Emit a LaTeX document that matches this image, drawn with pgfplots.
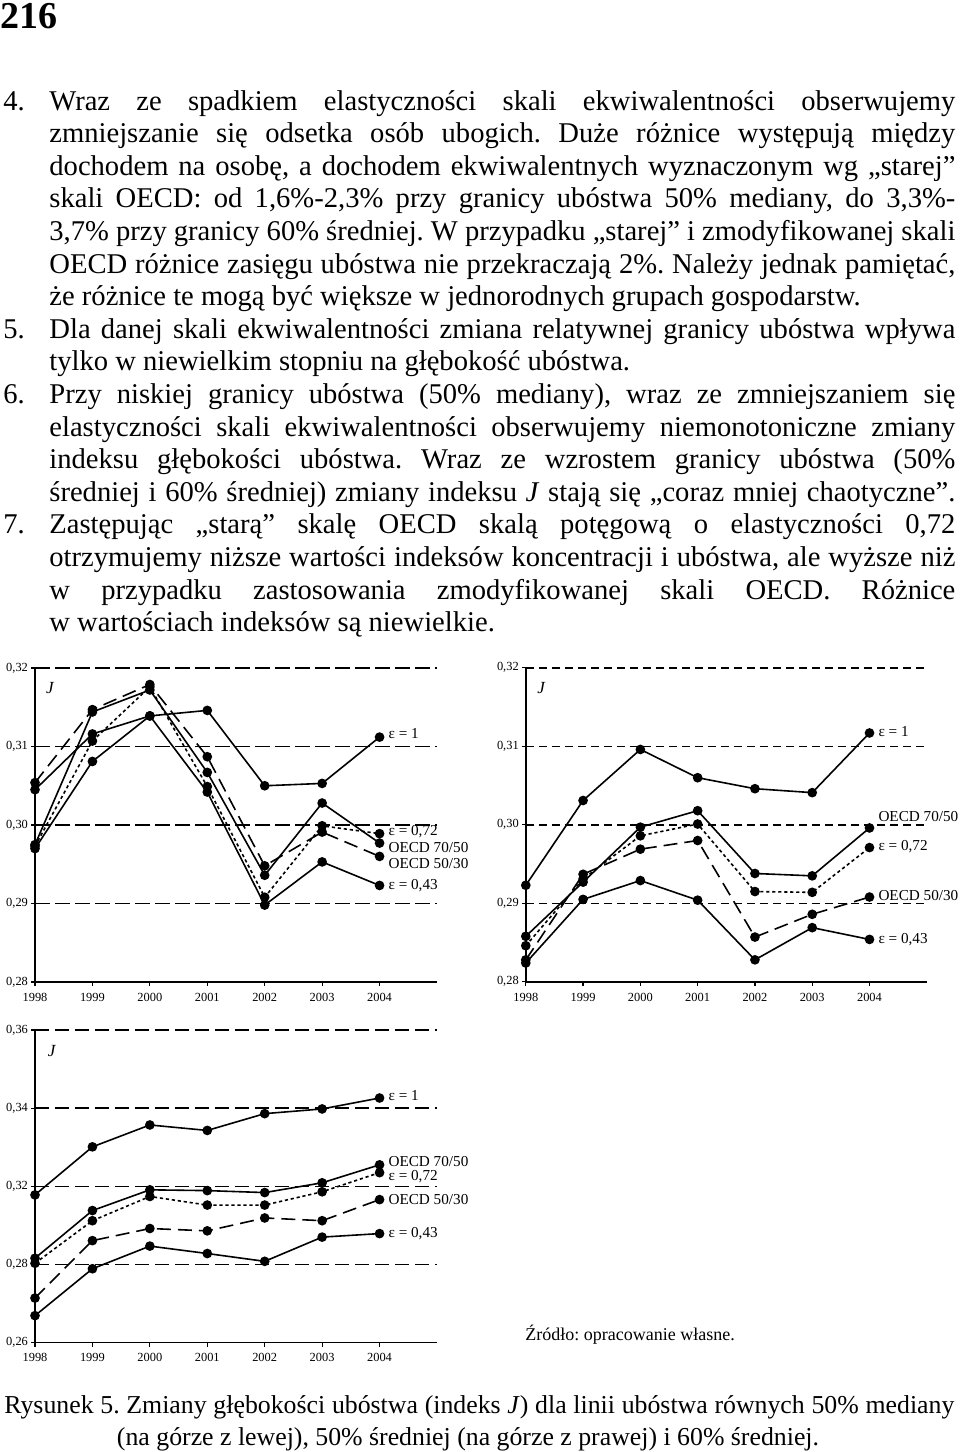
\documentclass[border=0pt]{standalone}
\usepackage{fontspec}
\setmainfont{Liberation Serif}
\usepackage{pgfplots}
\pgfplotsset{compat=1.18}
\frenchspacing

\newcommand{\body}{\fontsize{14.3}{16}\selectfont}
\newcommand{\jl}[1]{\makebox[453pt][s]{#1}}

\tikzset{
  lab/.style={anchor=west, inner sep=0pt, font=\fontsize{7.6}{9}\selectfont},
  jlab/.style={inner sep=0pt, font=\fontsize{8.5}{9}\selectfont\itshape},
  dot72/.style={dash pattern=on 1.6pt off 1.4pt},
  dash5030/.style={dash pattern=on 7pt off 3.5pt},
}
\pgfplotsset{
  jchart/.style={
    scale only axis, width=201pt, height=157pt,
    axis lines=left, axis line style={-, line width=0.7pt},
    xmin=1998, xmax=2005, xtick={1998,...,2004},
    xticklabels={1998,1999,2000,2001,2002,2003,2004},
    tick align=outside, major tick length=2pt,
    tick style={black, line width=0.6pt},
    ticklabel style={font=\fontsize{6.2}{7}\selectfont},
    yticklabel style={xshift=2pt},
    ymajorgrids, clip=false,
    cycle list={{black, solid, mark=*, mark options={solid}}},
    every axis plot/.append style={black, line width=0.8pt, mark=*, mark size=2pt, mark options={solid}},
  },
}

\begin{document}
\begin{tikzpicture}
\path[use as bounding box] (0,0) rectangle (480pt,-726pt);

\begin{scope}[x=0.5pt, y=-0.5pt, every node/.style={anchor=base west, inner sep=0pt, font=\body}]
\node at (0,28) {\fontsize{19}{20}\selectfont\bfseries 216};
\node at (3,110) {4.};
\node at (49,110) {\jl{Wraz ze spadkiem elastyczności skali ekwiwalentności obserwujemy}};
\node at (49,142.6) {\jl{zmniejszanie się odsetka osób ubogich. Duże różnice występują między}};
\node at (49,175.2) {\jl{dochodem na osobę, a dochodem ekwiwalentnych wyznaczonym wg „starej”}};
\node at (49,207.8) {\jl{skali OECD: od 1,6\%-2,3\% przy granicy ubóstwa 50\% mediany, do 3,3\%-}};
\node at (49,240.4) {\jl{3,7\% przy granicy 60\% średniej. W przypadku „starej” i zmodyfikowanej skali}};
\node at (49,273) {\jl{OECD różnice zasięgu ubóstwa nie przekraczają 2\%. Należy jednak pamiętać,}};
\node at (49,305.6) {że różnice te mogą być większe w jednorodnych grupach gospodarstw.};
\node at (3,338.2) {5.};
\node at (49,338.2) {\jl{Dla danej skali ekwiwalentności zmiana relatywnej granicy ubóstwa wpływa}};
\node at (49,370.8) {tylko w niewielkim stopniu na głębokość ubóstwa.};
\node at (3,403.4) {6.};
\node at (49,403.4) {\jl{Przy niskiej granicy ubóstwa (50\% mediany), wraz ze zmniejszaniem się}};
\node at (49,436) {\jl{elastyczności skali ekwiwalentności obserwujemy niemonotoniczne zmiany}};
\node at (49,468.6) {\jl{indeksu głębokości ubóstwa. Wraz ze wzrostem granicy ubóstwa (50\%}};
\node at (49,501.2) {\jl{średniej i 60\% średniej) zmiany indeksu \textit{J} stają się „coraz mniej chaotyczne”.}};
\node at (3,533.8) {7.};
\node at (49,533.8) {\jl{Zastępując „starą” skalę OECD skalą potęgową o elastyczności 0,72}};
\node at (49,566.4) {\jl{otrzymujemy niższe wartości indeksów koncentracji i ubóstwa, ale wyższe niż}};
\node at (49,599) {\jl{w przypadku zastosowania zmodyfikowanej skali OECD. Różnice}};
\node at (49,631.6) {w wartościach indeksów są niewielkie.};
\node at (525,1340) {\fontsize{9}{10}\selectfont Źródło: opracowanie własne.};
\node at (4,1413) {\fontsize{12.9}{15}\selectfont\makebox[475pt][s]{Rysunek 5. Zmiany głębokości ubóstwa (indeks \textit{J}) dla linii ubóstwa równych 50\% mediany}};
\node[anchor=base] at (468,1445) {\fontsize{12.9}{15}\selectfont (na górze z lewej), 50\% średniej (na górze z prawej) i 60\% średniej.};
\end{scope}

% 50% mediany
\begin{axis}[jchart, at={(17.5pt,-491pt)}, anchor=south west,
  ymin=0.28, ymax=0.32, ytick={0.28,0.29,0.30,0.31,0.32},
  yticklabels={{0,28},{0,29},{0,30},{0,31},{0,32}},
  grid style={black, line width=0.7pt, dash pattern=on 7.5pt off 2.5pt}]
\addplot coordinates {(1998,0.3045) (1999,0.3116) (2000,0.3139) (2001,0.3146) (2002,0.3050) (2003,0.3053) (2004,0.3112)};
\addplot coordinates {(1998,0.2975) (1999,0.3144) (2000,0.3172) (2001,0.3067) (2002,0.2936) (2003,0.3028) (2004,0.2977)};
\addplot[dot72] coordinates {(1998,0.2973) (1999,0.3107) (2000,0.3176) (2001,0.3049) (2002,0.2908) (2003,0.2999) (2004,0.2989)};
\addplot[dash5030] coordinates {(1998,0.3054) (1999,0.3147) (2000,0.3179) (2001,0.3087) (2002,0.2948) (2003,0.2991) (2004,0.2960)};
\addplot coordinates {(1998,0.2970) (1999,0.3081) (2000,0.3139) (2001,0.3042) (2002,0.2898) (2003,0.2953) (2004,0.2923)};
\node[jlab] at (axis cs:1998.26,0.3174) {J};
\node[lab] at (axis cs:2004.15,0.3116) {ε = 1};
\node[lab] at (axis cs:2004.15,0.29915) {ε = 0,72};
\node[lab] at (axis cs:2004.15,0.29716) {OECD 70/50};
\node[lab] at (axis cs:2004.15,0.29508) {OECD 50/30};
\node[lab] at (axis cs:2004.15,0.29232) {ε = 0,43};
\end{axis}

% 50% sredniej
\begin{axis}[jchart, at={(262.9pt,-490.9pt)}, anchor=south west, width=200.5pt,
  ymin=0.28, ymax=0.32, ytick={0.28,0.29,0.30,0.31,0.32},
  yticklabels={{0,28},{0,29},{0,30},{0,31},{0,32}},
  grid style={black, line width=0.7pt, dash pattern=on 4pt off 2.5pt}]
\addplot coordinates {(1998,0.2923) (1999,0.3031) (2000,0.3096) (2001,0.3060) (2002,0.3046) (2003,0.3041) (2004,0.3117)};
\addplot coordinates {(1998,0.2858) (1999,0.2927) (2000,0.2997) (2001,0.3018) (2002,0.2938) (2003,0.2935) (2004,0.2996)};
\addplot[dot72] coordinates {(1998,0.2846) (1999,0.2931) (2000,0.2986) (2001,0.3001) (2002,0.2915) (2003,0.2914) (2004,0.2971)};
\addplot[dash5030] coordinates {(1998,0.2828) (1999,0.2937) (2000,0.2969) (2001,0.2980) (2002,0.2857) (2003,0.2886) (2004,0.2908)};
\addplot coordinates {(1998,0.2824) (1999,0.2905) (2000,0.2929) (2001,0.2904) (2002,0.2828) (2003,0.2869) (2004,0.2854)};
\node[jlab] at (axis cs:1998.27,0.3174) {J};
\node[lab] at (axis cs:2004.15,0.31183) {ε = 1};
\node[lab] at (axis cs:2004.15,0.30106) {OECD 70/50};
\node[lab] at (axis cs:2004.15,0.29723) {ε = 0,72};
\node[lab] at (axis cs:2004.15,0.29094) {OECD 50/30};
\node[lab] at (axis cs:2004.15,0.28540) {ε = 0,43};
\end{axis}

% 60% sredniej
\begin{axis}[jchart, at={(17.5pt,-671.3pt)}, anchor=south west, height=156.3pt,
  ymin=0.28, ymax=0.36, ytick={0.28,0.30,0.32,0.34,0.36},
  yticklabels={{0,26},{0,28},{0,32},{0,34},{0,36}},
  grid style={black, line width=0.7pt, dash pattern=on 7pt off 3pt}]
\addplot coordinates {(1998,0.3178) (1999,0.3301) (2000,0.3357) (2001,0.3343) (2002,0.3386) (2003,0.3398) (2004,0.3426)};
\addplot coordinates {(1998,0.3016) (1999,0.3138) (2000,0.3191) (2001,0.3189) (2002,0.3184) (2003,0.3209) (2004,0.3255)};
\addplot[dot72] coordinates {(1998,0.3003) (1999,0.3112) (2000,0.3174) (2001,0.3152) (2002,0.3152) (2003,0.3186) (2004,0.3235)};
\addplot[dash5030] coordinates {(1998,0.2914) (1999,0.3061) (2000,0.3092) (2001,0.3086) (2002,0.3119) (2003,0.3112) (2004,0.3166)};
\addplot coordinates {(1998,0.2869) (1999,0.2989) (2000,0.3047) (2001,0.3028) (2002,0.3008) (2003,0.3070) (2004,0.3079)};
\node[jlab] at (axis cs:1998.29,0.3547) {J};
\node[lab] at (axis cs:2004.15,0.3431) {ε = 1};
\node[lab] at (axis cs:2004.15,0.3263) {OECD 70/50};
\node[lab] at (axis cs:2004.15,0.3225) {ε = 0,72};
\node[lab] at (axis cs:2004.15,0.3165) {OECD 50/30};
\node[lab] at (axis cs:2004.15,0.3078) {ε = 0,43};
\end{axis}
\end{tikzpicture}
\end{document}
